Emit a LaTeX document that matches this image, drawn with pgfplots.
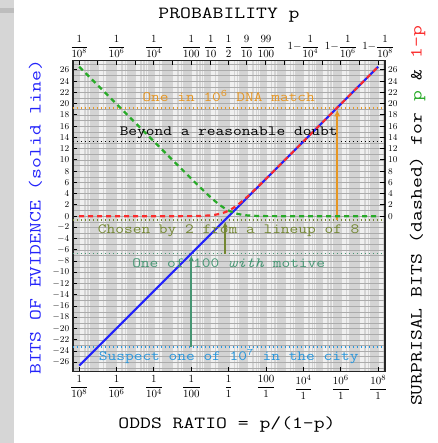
\documentclass[border=0pt]{standalone}
\usepackage{fontspec}
\usepackage{graphicx}
\usepackage{pgfplots}
\pgfplotsset{compat=1.18}
\usetikzlibrary{arrows.meta}
\definecolor{cblue}{RGB}{35,35,250}
\definecolor{cred}{RGB}{250,45,45}
\definecolor{cgreen}{RGB}{40,170,40}
\definecolor{corange}{RGB}{230,150,35}
\definecolor{colive}{RGB}{115,135,50}
\definecolor{cteal}{RGB}{70,150,115}
\definecolor{csky}{RGB}{40,150,220}
\newcommand{\tit}[1]{\scalebox{1.24}[1]{\fontsize{17}{17}\selectfont\ttfamily #1}}
\newcommand{\lab}[1]{\scalebox{1.2}[1]{\fontsize{14.1}{14}\selectfont\ttfamily #1}}
\pgfplotstableread{
x y
-8 0
-4 0.0001
-3 0.0014
-2 0.0144
-1.5 0.0449
-1 0.1375
-0.75 0.2361
-0.5 0.3964
-0.375 0.5076
-0.25 0.6437
-0.125 0.8073
0 1
0.125 1.2225
0.25 1.4742
0.375 1.7533
0.5 2.0574
0.75 2.7276
1 3.4594
1.5 5.0278
2 6.6582
3 9.9672
4 13.2879
6 19.9316
8 26.5754
}\redtab
\pgfplotstableread{
x y
-8 26.5754
-6 19.9316
-4 13.2879
-3 9.9672
-2 6.6582
-1.5 5.0278
-1 3.4594
-0.75 2.7276
-0.5 2.0574
-0.375 1.7533
-0.25 1.4742
-0.125 1.2225
0 1
0.125 0.8073
0.25 0.6437
0.375 0.5076
0.5 0.3964
0.75 0.2361
1 0.1375
1.5 0.0449
2 0.0144
3 0.0014
4 0.0001
8 0
}\greentab
\begin{document}
\begin{tikzpicture}
\fill[black!16] (0pt,0pt) rectangle (14pt,443pt);
\fill[black!26] (0pt,429.7pt) rectangle (14pt,434.7pt);
\path[use as bounding box] (0pt,0pt) rectangle (437pt,443pt);
\begin{axis}[
  at={(72.7pt,71.3pt)}, anchor=south west, scale only axis,
  width=312pt, height=311pt,
  xmin=-8.35, xmax=8.35, ymin=-27.65, ymax=27.65,
  axis background/.style={fill=black!6},
  axis line style={line width=1.6pt, black!85},
  tick align=inside, major tick length=4.5pt, minor tick length=0pt,
  major tick style={black, line width=1pt},
  xtick pos=left, ytick pos=left,
  xtick={-8,-6,-4,-2,0,2,4,6,8},
  xticklabels={$\displaystyle\frac{1}{10^{8}}$,$\displaystyle\frac{1}{10^{6}}$,$\displaystyle\frac{1}{10^{4}}$,$\displaystyle\frac{1}{100}$,$\displaystyle\frac{1}{1}$,$\displaystyle\frac{100}{1}$,$\displaystyle\frac{10^{4}}{1}$,$\displaystyle\frac{10^{6}}{1}$,$\displaystyle\frac{10^{8}}{1}$},
  minor xtick={-8.30103,-8.22185,-8.15490,-8.09691,-8.04576,
  -8,-7.69897,-7.52288,-7.39794,-7.30103,-7.22185,-7.15490,-7.09691,-7.04576,
  -7,-6.69897,-6.52288,-6.39794,-6.30103,-6.22185,-6.15490,-6.09691,-6.04576,
  -6,-5.69897,-5.52288,-5.39794,-5.30103,-5.22185,-5.15490,-5.09691,-5.04576,
  -5,-4.69897,-4.52288,-4.39794,-4.30103,-4.22185,-4.15490,-4.09691,-4.04576,
  -4,-3.69897,-3.52288,-3.39794,-3.30103,-3.22185,-3.15490,-3.09691,-3.04576,
  -3,-2.69897,-2.52288,-2.39794,-2.30103,-2.22185,-2.15490,-2.09691,-2.04576,
  -2,-1.69897,-1.52288,-1.39794,-1.30103,-1.22185,-1.15490,-1.09691,-1.04576,
  -1,-0.69897,-0.52288,-0.39794,-0.30103,-0.22185,-0.15490,-0.09691,-0.04576,
  0,0.30103,0.47712,0.60206,0.69897,0.77815,0.84510,0.90309,0.95424,
  1,1.30103,1.47712,1.60206,1.69897,1.77815,1.84510,1.90309,1.95424,
  2,2.30103,2.47712,2.60206,2.69897,2.77815,2.84510,2.90309,2.95424,
  3,3.30103,3.47712,3.60206,3.69897,3.77815,3.84510,3.90309,3.95424,
  4,4.30103,4.47712,4.60206,4.69897,4.77815,4.84510,4.90309,4.95424,
  5,5.30103,5.47712,5.60206,5.69897,5.77815,5.84510,5.90309,5.95424,
  6,6.30103,6.47712,6.60206,6.69897,6.77815,6.84510,6.90309,6.95424,
  7,7.30103,7.47712,7.60206,7.69897,7.77815,7.84510,7.90309,7.95424,
  8,8.30103},
  ytick={-26,-24,...,26},
  minor ytick={-27,-25,...,27},
  xmajorgrids, xminorgrids, ymajorgrids, yminorgrids,
  major x grid style={black!17, line width=1.6pt},
  minor x grid style={black!17, line width=1.6pt},
  major y grid style={black!33, line width=0.6pt},
  minor y grid style={black!33, line width=0.6pt},
  xticklabel style={font=\fontsize{11}{11}\selectfont},
  yticklabel style={font=\fontsize{9.5}{9.5}\selectfont},
]
% reference lines
\addplot[corange, line width=1.6pt, dash pattern=on 1.6pt off 2.4pt] coordinates {(-8.35,19.29) (8.35,19.29)};
\addplot[black, line width=1.6pt, dash pattern=on 1.6pt off 2.4pt] coordinates {(-8.35,13.29) (8.35,13.29)};
\addplot[colive, line width=1.6pt, dash pattern=on 1.6pt off 2.4pt] coordinates {(-8.35,-0.64) (8.35,-0.64)};
\addplot[cteal, line width=1.6pt, dash pattern=on 1.6pt off 2.4pt] coordinates {(-8.35,-6.64) (8.35,-6.64)};
\addplot[csky, line width=1.6pt, dash pattern=on 1.6pt off 2.4pt] coordinates {(-8.35,-23.25) (8.35,-23.25)};
% evidence arrows
\addplot[cteal, line width=2pt, -{Latex[length=6pt,width=5pt]}] coordinates {(-2,-23.25) (-2,-6.9)};
\addplot[colive, line width=2pt, -{Latex[length=6pt,width=5pt]}] coordinates {(-0.19,-6.64) (-0.19,-0.9)};
\addplot[corange, line width=2pt, -{Latex[length=7pt,width=6pt]}] coordinates {(5.81,-0.64) (5.81,19.0)};
% curves
\addplot[cblue, line width=2pt] coordinates {(-8,-26.5754) (8,26.5754)};
\addplot[cgreen, line width=2.2pt, dash pattern=on 5pt off 4pt] table[x=x,y=y] {\greentab};
\addplot[cred, line width=2.2pt, dash pattern=on 5pt off 4pt] table[x=x,y=y] {\redtab};
% texts
\node[anchor=base, text=corange] at (axis cs:0,20.4) {\lab{One in 10\textsuperscript{6} DNA match}};
\node[anchor=base, text=black] at (axis cs:0,14.3) {\lab{Beyond a reasonable doubt}};
\node[anchor=base, text=colive] at (axis cs:0,-3.0) {\lab{Chosen by 2 from a lineup of 8}};
\node[anchor=base, text=cteal] at (axis cs:0,-9.1) {\lab{One of 100 \textit{with} motive}};
\node[anchor=base, text=csky] at (axis cs:0,-25.7) {\lab{Suspect one of 10\textsuperscript{7} in the city}};
\end{axis}
\begin{axis}[
  at={(72.7pt,71.3pt)}, anchor=south west, scale only axis,
  width=312pt, height=311pt,
  xmin=-8.35, xmax=8.35, ymin=-27.65, ymax=27.65,
  axis line style={draw=none},
  tick align=inside, major tick length=4.5pt,
  major tick style={black, line width=1pt},
  xtick pos=right, xticklabel pos=right, ytick pos=right, yticklabel pos=right,
  xtick={-8,-7,-6,-5,-4,-3,-1.99564,-0.95424,0,0.95424,1.99564,3,4,5,6,7,8},
  xticklabels={$\displaystyle\frac{1}{10^{8}}$,{},$\displaystyle\frac{1}{10^{6}}$,{},$\displaystyle\frac{1}{10^{4}}$,{},$\displaystyle\frac{1}{100}$,$\displaystyle\frac{1}{10}$,$\displaystyle\frac{1}{2}$,$\displaystyle\frac{9}{10}$,$\displaystyle\frac{99}{100}$,{},$1{-}\displaystyle\frac{1}{10^{4}}$,{},$1{-}\displaystyle\frac{1}{10^{6}}$,{},$1{-}\displaystyle\frac{1}{10^{8}}$},
  ytick={0,2,...,26},
  xticklabel style={font=\fontsize{10.5}{10.5}\selectfont},
  yticklabel style={font=\fontsize{9.5}{9.5}\selectfont},
]
\addplot[draw=none] coordinates {(0,0)};
\end{axis}
\node[anchor=base] at (229pt,424.7pt) {\tit{PROBABILITY p}};
\node[anchor=base] at (227pt,14.7pt) {\tit{ODDS RATIO = p/(1-p)}};
\node[anchor=base, rotate=90, text=cblue] at (40.5pt,225.7pt) {\tit{BITS OF EVIDENCE (solid line)}};
\node[anchor=base, rotate=90] at (421.5pt,227.1pt) {\tit{SURPRISAL BITS (dashed) for \textcolor{cgreen}{p} \& \textcolor{cred}{1-p}}};
\end{tikzpicture}
\end{document}
